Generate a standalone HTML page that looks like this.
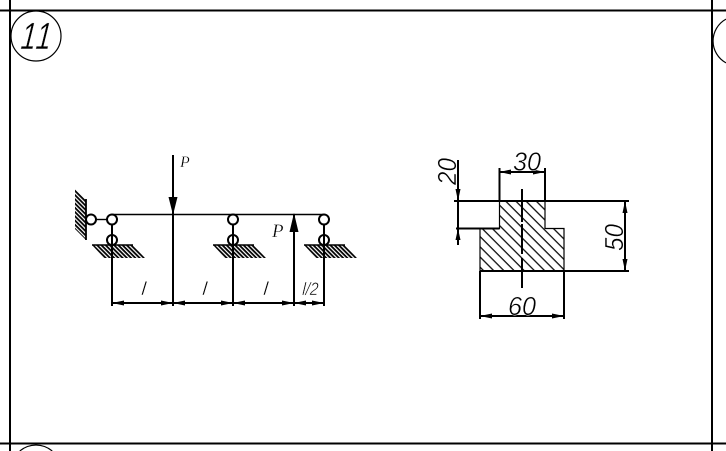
<!DOCTYPE html>
<html>
<head>
<meta charset="utf-8">
<style>
html,body{margin:0;padding:0;background:#fff;width:726px;height:451px;overflow:hidden}
svg{display:block;position:absolute;left:0;top:0}
text{font-family:"Liberation Sans",sans-serif;font-style:italic;fill:#000}
.thin{stroke:#fff;stroke-width:.45px}
.ser{font-family:"Liberation Serif",serif;stroke:#fff;stroke-width:.3px}
</style>
</head>
<body>
<svg width="726" height="451" viewBox="0 0 726 451" xmlns="http://www.w3.org/2000/svg">
<defs>
<pattern id="g" width="3" height="3" patternUnits="userSpaceOnUse" patternTransform="rotate(45)">
<rect width="3" height="3" fill="#fff"/><rect width="3" height="1.8" fill="#000"/>
</pattern>
<pattern id="s" width="7.2" height="7.2" patternUnits="userSpaceOnUse" patternTransform="rotate(45)">
<rect width="7.2" height="7.2" fill="#fff"/><rect width="7.2" height="1.3" fill="#111"/>
</pattern>
<g id="ground">
<polygon points="-20,245 21,245 33,258 -8,258" fill="url(#g)"/>
<line x1="-20" y1="245" x2="21" y2="245" stroke="#000" stroke-width="1.6"/>
</g>
</defs>

<!-- frame -->
<g stroke="#000" stroke-width="2" fill="none">
<line x1="0" y1="10.5" x2="726" y2="10.5"/>
<line x1="0" y1="443.5" x2="726" y2="443.5"/>
<line x1="10" y1="0" x2="10" y2="451"/>
<line x1="712" y1="0" x2="712" y2="451"/>
</g>
<g stroke="#000" stroke-width="1.2" fill="none">
<circle cx="36" cy="36" r="25"/>
<path d="M726,19.1 A25,25 0 0 0 726,62.9"/>
<path d="M19.8,451 A25,25 0 0 1 52.2,451"/>
</g>
<text class="thin" transform="translate(20,49) skewX(-6) scale(.72,1)" font-size="38">1</text>
<text class="thin" transform="translate(35,49) skewX(-6) scale(.72,1)" font-size="38">1</text>

<!-- wall hatch -->
<polygon points="75,189 86,200 86,240 75,229" fill="url(#g)"/>
<line x1="86" y1="199" x2="86" y2="240" stroke="#000" stroke-width="1.8"/>

<use href="#ground" x="112"/>
<use href="#ground" x="233"/>
<use href="#ground" x="324"/>

<!-- beam -->
<line x1="112" y1="214.5" x2="324" y2="214.5" stroke="#000" stroke-width="1.4"/>

<!-- vertical lines -->
<g stroke="#000" stroke-width="2" fill="none">
<line x1="112" y1="225" x2="112" y2="306"/>
<line x1="233" y1="225" x2="233" y2="306"/>
<line x1="324" y1="225" x2="324" y2="306"/>
<line x1="173" y1="155" x2="173" y2="306"/>
<line x1="294" y1="214" x2="294" y2="306"/>
<line x1="96" y1="219.5" x2="107" y2="219.5" stroke-width="1.4"/>
<line x1="112" y1="303" x2="324" y2="303"/>
</g>

<!-- support circles -->
<g stroke="#000" stroke-width="2" fill="#fff">
<circle cx="91" cy="219.5" r="5"/>
<circle cx="112" cy="219.5" r="5"/>
<circle cx="233" cy="219.5" r="5"/>
<circle cx="324" cy="219.5" r="5"/>
</g>
<g stroke="#000" stroke-width="2" fill="none">
<circle cx="112" cy="240" r="5"/>
<circle cx="233" cy="240" r="5"/>
<circle cx="324" cy="240" r="5"/>
</g>

<!-- force arrowheads -->
<polygon points="168.5,197 177.5,197 173,215" fill="#000"/>
<polygon points="289.5,232 298.5,232 294,213" fill="#000"/>

<!-- dim arrows -->
<g fill="#000">
<polygon points="112,303 124,300.5 124,305.5"/>
<polygon points="173,303 161,300.5 161,305.5"/>
<polygon points="173,303 185,300.5 185,305.5"/>
<polygon points="233,303 221,300.5 221,305.5"/>
<polygon points="233,303 245,300.5 245,305.5"/>
<polygon points="294,303 282,300.5 282,305.5"/>
<polygon points="294,303 306,300.5 306,305.5"/>
<polygon points="324,303 312,300.5 312,305.5"/>
</g>

<!-- labels left -->
<text class="ser" x="180" y="167" font-size="16">P</text>
<text class="ser" x="272" y="237" font-size="19">P</text>
<text class="thin" transform="translate(141,295) skewX(-6)" font-size="19">l</text>
<text class="thin" transform="translate(202,295) skewX(-6)" font-size="19">l</text>
<text class="thin" transform="translate(263,295) skewX(-6)" font-size="19">l</text>
<text class="thin" transform="translate(302,295) skewX(-4)" font-size="18" textLength="16" lengthAdjust="spacingAndGlyphs">l/2</text>

<!-- section -->
<polygon points="499.5,201 545,201 545,228.5 564,228.5 564,271 480,271 480,228.5 499.5,228.5" fill="url(#s)" stroke="#000" stroke-width="1.2"/>
<g stroke="#000" stroke-width="2" fill="none">
<line x1="454" y1="201" x2="629" y2="201"/>
<line x1="456" y1="228.5" x2="499.5" y2="228.5"/>
<line x1="480" y1="271" x2="629" y2="271"/>
<line x1="499.5" y1="168" x2="499.5" y2="201"/>
<line x1="545" y1="168" x2="545" y2="201"/>
<line x1="480" y1="271" x2="480" y2="319"/>
<line x1="564" y1="271" x2="564" y2="319"/>
<line x1="458" y1="160" x2="458" y2="245"/>
<line x1="625" y1="201" x2="625" y2="271"/>
<line x1="499.5" y1="172" x2="545" y2="172"/>
<line x1="480" y1="316" x2="564" y2="316"/>
<line x1="522" y1="189" x2="522" y2="222"/>
<line x1="522" y1="224" x2="522" y2="254"/>
<line x1="522" y1="258" x2="522" y2="288"/>
</g>
<g fill="#000">
<polygon points="499.5,172 511,169.5 511,174.5"/>
<polygon points="545,172 533,169.5 533,174.5"/>
<polygon points="480,316 492,313.5 492,318.5"/>
<polygon points="564,316 552,313.5 552,318.5"/>
<polygon points="625,201 622.5,213 627.5,213"/>
<polygon points="625,271 622.5,259 627.5,259"/>
<polygon points="458,201 455.5,189 460.5,189"/>
<polygon points="458,228.5 455.5,240 460.5,240"/>
</g>
<g font-size="26">
<text class="thin" x="513" y="170.5" textLength="28" lengthAdjust="spacingAndGlyphs">30</text>
<text class="thin" x="508" y="315" textLength="28" lengthAdjust="spacingAndGlyphs">60</text>
<text class="thin" transform="translate(456,185) rotate(-90)" textLength="27" lengthAdjust="spacingAndGlyphs">20</text>
<text class="thin" transform="translate(623,251) rotate(-90)" textLength="27" lengthAdjust="spacingAndGlyphs">50</text>
</g>
</svg>
</body>
</html>
